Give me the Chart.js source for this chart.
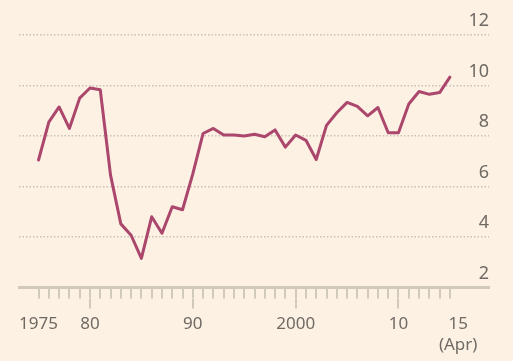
<!DOCTYPE html>
<html>
<head>
<meta charset="utf-8">
<script src="https://cdn.jsdelivr.net/npm/chart.js"></script>
<style>
  html, body { margin: 0; padding: 0; background: #fdf1e3; }
  #wrap { width: 513px; height: 361px; }
</style>
</head>
<body>
<div id="wrap"><canvas id="grafico" width="513" height="361"></canvas></div>
<script>
// Datos (un valor por año, el último es abril de 2015)
const anios = [1975, 1976, 1977, 1978, 1979, 1980, 1981, 1982, 1983, 1984,
  1985, 1986, 1987, 1988, 1989, 1990, 1991, 1992, 1993, 1994,
  1995, 1996, 1997, 1998, 1999, 2000, 2001, 2002, 2003, 2004,
  2005, 2006, 2007, 2008, 2009, 2010, 2011, 2012, 2013, 2014, 2015];
const valores = [7.05, 8.55, 9.15, 8.3, 9.5, 9.9, 9.83, 6.45, 4.52, 4.07,
  3.15, 4.8, 4.15, 5.2, 5.08, 6.5, 8.1, 8.3, 8.04, 8.04,
  8.0, 8.07, 7.97, 8.24, 7.56, 8.04, 7.83, 7.07, 8.42, 8.92,
  9.33, 9.17, 8.8, 9.13, 8.13, 8.13, 9.27, 9.76, 9.65, 9.72, 10.33];

// Marcas del eje X
const marcasMenores = anios;                 // una marca por año
const marcasMayores = [1980, 1990, 2000, 2010];
const etiquetasX = [
  { valor: 1975, texto: '1975' },
  { valor: 1980, texto: '80' },
  { valor: 1990, texto: '90' },
  { valor: 2000, texto: '2000' },
  { valor: 2010, texto: '10' },
  { valor: 2015.8, texto: ['15', '(Apr)'] }
];
const ticksY = [2, 4, 6, 8, 10, 12];

const colorLinea = '#ab466d';
const colorEje = '#d2c9bd';
const colorTexto = '#6f6a64';
const fuente = { family: "'Noto Sans', sans-serif", size: 17, lineHeight: 1.25 };
const fuenteY = { family: "'Noto Sans', sans-serif", size: 18 };

function crearGrafico(ctx) {
  return new Chart(ctx, {
    type: 'line',
    data: {
      datasets: [{
        data: anios.map((a, i) => ({ x: a, y: valores[i] })),
        borderColor: colorLinea,
        borderWidth: 3,
        pointRadius: 0,
        tension: 0,
        borderJoinStyle: 'round',
        borderCapStyle: 'round',
        xAxisID: 'x',
        yAxisID: 'y'
      }]
    },
    options: {
      responsive: false,
      animation: false,
      layout: { padding: { left: 19, right: 24, top: 35, bottom: 0 } },
      plugins: { legend: { display: false }, tooltip: { enabled: false } },
      scales: {
        x: {
          type: 'linear',
          position: 'bottom',
          min: 1973.1,
          max: 2018.8,
          afterBuildTicks: axis => { axis.ticks = marcasMenores.map(v => ({ value: v })); },
          grid: { drawOnChartArea: false, drawTicks: true, tickLength: 11, color: colorEje, lineWidth: 2 },
          border: { display: true, color: colorEje, width: 3 },
          ticks: { display: false }
        },
        x2: {
          type: 'linear',
          position: 'bottom',
          min: 1973.1,
          max: 2018.8,
          afterBuildTicks: axis => { axis.ticks = etiquetasX.map(e => ({ value: e.valor })); },
          grid: {
            drawOnChartArea: false,
            drawTicks: true,
            tickLength: 10,
            lineWidth: 2,
            color: c => (c.tick && marcasMayores.includes(c.tick.value)) ? colorEje : 'rgba(0,0,0,0)'
          },
          border: { display: false },
          ticks: {
            autoSkip: false,
            maxRotation: 0,
            padding: 5,
            color: colorTexto,
            font: fuente,
            callback: v => {
              const e = etiquetasX.find(et => et.valor === v);
              return e ? e.texto : '';
            }
          }
        },
        y: {
          position: 'right',
          min: 2,
          max: 12,
          afterBuildTicks: axis => { axis.ticks = ticksY.map(v => ({ value: v })); },
          grid: {
            drawTicks: false,
            lineWidth: 1.5,
            color: c => (c.tick && c.tick.value === 2) ? 'rgba(0,0,0,0)' : '#c9c1b7'
          },
          border: { display: false, dash: [1.5, 2] },
          ticks: {
            mirror: true,
            padding: 0,
            labelOffset: -14,
            color: colorTexto,
            font: fuenteY
          }
        }
      }
    }
  });
}

document.addEventListener('DOMContentLoaded', () => {
  crearGrafico(document.getElementById('grafico').getContext('2d'));
});
</script>
</body>
</html>
